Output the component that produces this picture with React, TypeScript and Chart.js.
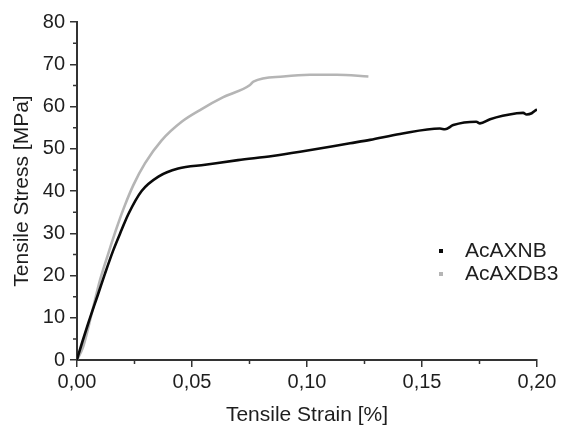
import React, { useEffect, useRef } from "react";
import { Chart, registerables } from "chart.js";

Chart.register(...registerables);

const nbLabel = "AcAXNB";
const nbStrain = [0, 0.0006, 0.0049, 0.0093, 0.0122, 0.0158, 0.0194, 0.0223, 0.0281, 0.0354, 0.044, 0.0557, 0.07, 0.085, 0.097, 0.1187, 0.1274, 0.1404, 0.1578, 0.16, 0.1636, 0.1736, 0.1752, 0.1796, 0.1912, 0.194, 0.1955, 0.1977, 0.1991, 0.2];
const nbStress = [0, 1.2, 8.7, 15.8, 20.5, 26.0, 30.8, 34.5, 40.0, 43.4, 45.3, 46.2, 47.3, 48.3, 49.3, 51.3, 52.1, 53.5, 54.8, 54.6, 55.6, 56.4, 56.0, 57.0, 58.4, 58.5, 58.1, 58.4, 59.0, 59.3];

const db3Label = "AcAXDB3";
const db3Strain = [0, 0.0027, 0.0064, 0.01, 0.0136, 0.0172, 0.0208, 0.0245, 0.0296, 0.0368, 0.0455, 0.0542, 0.0636, 0.0752, 0.0767, 0.0897, 0.1013, 0.1129, 0.1267];
const db3Stress = [0, 3.2, 11.0, 18.9, 25.2, 31.2, 36.6, 41.4, 46.6, 52.0, 56.4, 59.4, 62.2, 65.1, 65.9, 67.1, 67.5, 67.5, 67.1];

const xMinorTicks = [0.025, 0.075, 0.125, 0.175];
const yMinorTicks = [5, 15, 25, 35, 45, 55, 65, 75];

const FONT = "'Liberation Sans', Arial, sans-serif";
const AXIS_COLOR = "#333";
const TEXT_COLOR = "#1e1e1e";

export default function App() {
  const ref = useRef<HTMLCanvasElement | null>(null);

  useEffect(() => {
    if (!ref.current) return;
    const toPts = (xs: number[], ys: number[]) => xs.map((x, i) => ({ x, y: ys[i] }));

    const minorPlugin = {
      id: "minorTicks",
      afterDraw(chart: any) {
        const ctx = chart.ctx;
        const xs = chart.scales.x;
        const ys = chart.scales.y;
        ctx.save();
        ctx.strokeStyle = AXIS_COLOR;
        ctx.lineWidth = 1.5;
        ctx.beginPath();
        for (const v of xMinorTicks) {
          const px = xs.getPixelForValue(v);
          ctx.moveTo(px, xs.top);
          ctx.lineTo(px, xs.top + 4);
        }
        for (const v of yMinorTicks) {
          const py = ys.getPixelForValue(v);
          ctx.moveTo(ys.right, py);
          ctx.lineTo(ys.right - 4, py);
        }
        ctx.stroke();
        ctx.restore();
      },
    };

    const legendPlugin = {
      id: "customLegend",
      afterDraw(chart: any) {
        const ctx = chart.ctx;
        ctx.save();
        ctx.font = `21px ${FONT}`;
        ctx.textBaseline = "middle";
        ctx.textAlign = "left";
        const rows = [
          { y: 251, ds: chart.data.datasets[0] },
          { y: 274, ds: chart.data.datasets[1] },
        ];
        for (const r of rows) {
          ctx.fillStyle = r.ds.borderColor;
          ctx.fillRect(439, r.y - 2, 4, 4);
          ctx.fillStyle = TEXT_COLOR;
          ctx.fillText(r.ds.label, 465, r.y);
        }
        ctx.restore();
      },
    };

    const chart = new Chart(ref.current, {
      type: "line",
      data: {
        datasets: [
          {
            label: nbLabel,
            data: toPts(nbStrain, nbStress),
            borderColor: "#0a0a0a",
            borderWidth: 2.6,
            pointRadius: 0,
            cubicInterpolationMode: "monotone",
            fill: false,
          },
          {
            label: db3Label,
            data: toPts(db3Strain, db3Stress),
            borderColor: "#b5b5b5",
            borderWidth: 2.6,
            pointRadius: 0,
            cubicInterpolationMode: "monotone",
            fill: false,
          },
        ],
      },
      options: {
        responsive: false,
        animation: false,
        layout: { padding: { left: 0, top: 22, right: 24, bottom: 0 } },
        plugins: { legend: { display: false }, tooltip: { enabled: false } },
        scales: {
          x: {
            type: "linear",
            min: 0,
            max: 0.2,
            afterFit: (s: any) => { s.height = 66; },
            border: { display: true, color: AXIS_COLOR, width: 2 },
            grid: { drawOnChartArea: false, drawTicks: true, tickLength: 7, color: AXIS_COLOR, lineWidth: 1.5 },
            ticks: {
              stepSize: 0.05,
              padding: 3,
              color: TEXT_COLOR,
              font: { family: FONT, size: 20 },
              maxRotation: 0,
              callback: (v: any) => Number(v).toFixed(2).replace(".", ","),
            },
            title: {
              display: true,
              text: "Tensile Strain [%]",
              color: TEXT_COLOR,
              font: { family: FONT, size: 21, lineHeight: 1 },
              padding: { top: 0, bottom: 0 },
            },
          },
          y: {
            type: "linear",
            min: 0,
            max: 80,
            afterFit: (s: any) => { s.width = 77; },
            border: { display: true, color: AXIS_COLOR, width: 2 },
            grid: { drawOnChartArea: false, drawTicks: true, tickLength: 7, color: AXIS_COLOR, lineWidth: 1.5 },
            ticks: {
              stepSize: 10,
              padding: 5,
              color: TEXT_COLOR,
              font: { family: FONT, size: 20 },
            },
            title: {
              display: true,
              text: "Tensile Stress [MPa]",
              color: TEXT_COLOR,
              font: { family: FONT, size: 21, lineHeight: 1 },
              padding: { top: 12, bottom: 0 },
            },
          },
        },
      },
      plugins: [minorPlugin, legendPlugin],
    } as any);

    return () => chart.destroy();
  }, []);

  return (
    <div style={{ position: "absolute", left: 0, top: 0, width: 561, height: 426, background: "#fff" }}>
      <canvas ref={ref} width={561} height={426} />
    </div>
  );
}
